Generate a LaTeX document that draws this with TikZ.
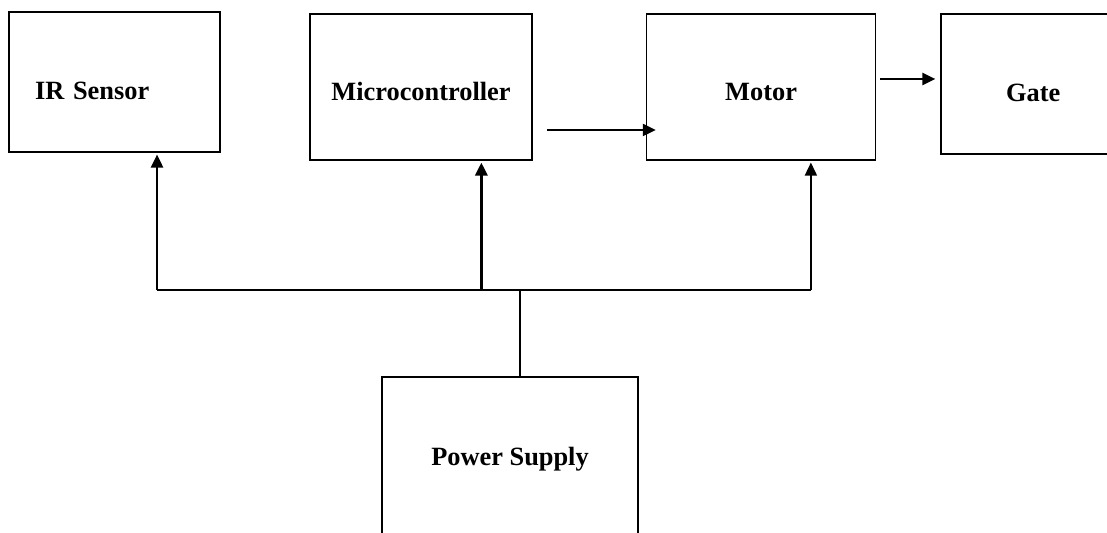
\documentclass[tikz,border=0pt]{standalone}
\usepackage{fontspec}
\setmainfont{Liberation Serif}
\usetikzlibrary{arrows.meta,positioning,calc}

\begin{document}
\begin{tikzpicture}[
  box/.style={rectangle, draw, line width=0.9pt, align=center,
              font=\fontsize{15}{18}\selectfont\bfseries, inner sep=0pt,
              text height=0.65cm, text depth=0.11cm},
  arr/.style={draw,-{Triangle[length=2.6mm,width=2.4mm]},line width=1.3pt},
  bus/.style={draw,line width=0.9pt}
]
\useasboundingbox (0,0) rectangle (22.14,10.66);
\clip (0,0) rectangle (22.14,10.66);
\fill[white] (0,0) rectangle (22.14,10.66);
\node[box, minimum width=4.22cm, minimum height=2.8cm, text width=3.18cm,
      align=left, text height=0.83cm] (ir) at (2.29,9.02) {IR Sensor};
\node[box, minimum width=4.44cm, minimum height=2.92cm] (mc) at (8.42,8.92) {Microcontroller};
\node[box, minimum width=4.58cm, minimum height=2.92cm, right=2.26cm of mc] (mot) {Motor};
\node[box, minimum width=3.68cm, minimum height=2.8cm, text height=0.83cm,
      right=1.28cm of mot.north east, anchor=north west] (gt) {Gate};
\node[box, minimum width=5.12cm, minimum height=3.6cm, text height=0.35cm,
      text depth=0.41cm] (ps) at (10.2,1.32) {Power Supply};
% supply lines
\coordinate (irin)  at ($(ir.south west)!0.7!(ir.south east)$);
\coordinate (mcin)  at ($(mc.south west)!0.77!(mc.south east)$);
\coordinate (motin) at ($(mot.south west)!0.716!(mot.south east)$);
\draw[bus] ([xshift=0.2cm]ps.north) -- ++(0,1.72) coordinate (jn);
\draw[bus] (jn -| irin) -- (jn -| motin);
\draw[arr, line width=1.4pt, shorten >=1pt] (jn -| irin) -- (irin);
\draw[arr, line width=1.7pt, shorten >=1pt] (jn -| mcin) -- (mcin);
\draw[arr, line width=0.9pt, shorten >=1pt] (jn -| motin) -- (motin);
% signal path
\coordinate (mcout)  at ([yshift=-0.86cm]mc.east);
\coordinate (motout) at ([yshift=0.16cm]mot.east);
\draw[arr, shorten <=0.28cm, shorten >=-0.2cm] (mcout) -- (mcout -| mot.west);
\draw[arr, shorten <=0.08cm, shorten >=0.1cm] (motout) -- (motout -| gt.west);
\end{tikzpicture}
\end{document}
